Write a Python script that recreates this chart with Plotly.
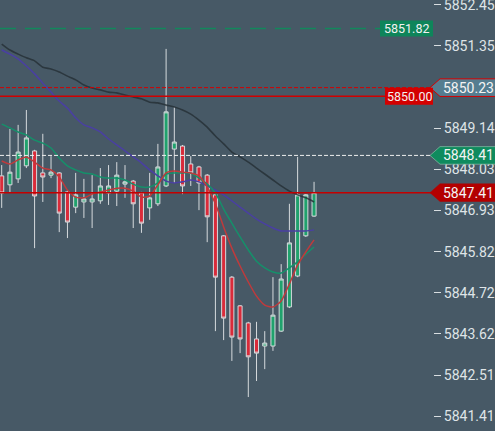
import plotly.graph_objects as go

# ---- data ----
bar_index = list(range(39))
opens = [5847.86, 5847.62, 5847.78, 5848.13, 5848.53, 5847.94, 5847.88, 5847.94, 5847.43, 5847.02,
         5847.16, 5847.16, 5847.19, 5847.40, 5847.45, 5847.64, 5847.72, 5847.40, 5847.00, 5847.11,
         5847.59, 5848.58, 5848.66, 5848.18, 5848.10, 5847.88, 5847.35, 5846.25, 5845.14, 5844.37,
         5843.91, 5843.48, 5843.29, 5843.29, 5843.69, 5844.34, 5845.17, 5846.25, 5846.78]
highs = [5848.15, 5849.12, 5849.23, 5849.63, 5848.56, 5848.99, 5848.39, 5847.96, 5847.48, 5847.94,
         5847.78, 5847.88, 5848.07, 5848.15, 5848.23, 5848.15, 5847.75, 5847.43, 5847.94, 5848.72,
         5851.27, 5849.71, 5848.69, 5848.39, 5848.13, 5847.91, 5847.37, 5846.27, 5845.17, 5844.39,
         5843.94, 5843.94, 5843.69, 5845.14, 5845.49, 5847.11, 5848.37, 5847.37, 5847.70]
lows = [5847.00, 5847.40, 5847.67, 5848.07, 5845.92, 5847.16, 5847.80, 5846.35, 5846.19, 5846.86,
        5846.73, 5846.46, 5847.11, 5847.08, 5847.05, 5847.27, 5846.46, 5846.33, 5846.68, 5847.05,
        5847.56, 5847.67, 5847.37, 5847.59, 5846.94, 5846.08, 5843.69, 5843.45, 5842.89, 5843.10,
        5841.92, 5842.35, 5842.67, 5843.16, 5843.67, 5844.31, 5845.14, 5846.22, 5846.76]
closes = [5847.40, 5847.96, 5848.50, 5848.88, 5847.32, 5847.83, 5847.96, 5846.86, 5846.62, 5847.35,
          5847.24, 5847.24, 5847.59, 5847.59, 5847.88, 5847.70, 5847.11, 5846.59, 5847.27, 5848.10,
          5849.58, 5848.77, 5847.59, 5847.94, 5847.67, 5846.76, 5845.14, 5844.04, 5843.53, 5843.48,
          5843.00, 5843.10, 5843.37, 5844.12, 5845.09, 5846.06, 5847.35, 5847.35, 5847.41]

ma_dark = [5851.40, 5851.24, 5851.13, 5851.03, 5850.95, 5850.78, 5850.73, 5850.65, 5850.54, 5850.44,
           5850.30, 5850.22, 5850.17, 5850.11, 5850.09, 5850.03, 5849.98, 5849.93, 5849.84, 5849.82,
           5849.76, 5849.71, 5849.63, 5849.52, 5849.36, 5849.17, 5848.93, 5848.72, 5848.50, 5848.37,
           5848.23, 5848.07, 5847.91, 5847.75, 5847.59, 5847.45, 5847.35, 5847.27, 5847.16]
ma_purple = [5851.24, 5851.13, 5851.00, 5850.81, 5850.60, 5850.35, 5850.11, 5849.87, 5849.68, 5849.42,
             5849.23, 5849.15, 5849.04, 5848.85, 5848.69, 5848.53, 5848.37, 5848.21, 5848.02, 5847.86,
             5847.72, 5847.67, 5847.70, 5847.75, 5847.70, 5847.59, 5847.48, 5847.35, 5847.19, 5847.02,
             5846.86, 5846.70, 5846.57, 5846.46, 5846.38, 5846.38, 5846.38, 5846.38, 5846.41]
ma_green = [5849.25, 5849.15, 5849.04, 5848.96, 5848.82, 5848.74, 5848.61, 5848.34, 5848.13, 5848.02,
            5847.94, 5847.91, 5847.83, 5847.80, 5847.80, 5847.75, 5847.64, 5847.56, 5847.56, 5847.67,
            5847.91, 5847.94, 5847.94, 5847.94, 5847.80, 5847.64, 5847.40, 5846.97, 5846.59, 5846.22,
            5845.87, 5845.57, 5845.39, 5845.28, 5845.25, 5845.39, 5845.55, 5845.76, 5845.95]
ma_red = [5848.26, 5848.18, 5848.29, 5848.37, 5848.23, 5848.07, 5848.02, 5847.83, 5847.48, 5847.29,
          5847.27, 5847.37, 5847.43, 5847.48, 5847.53, 5847.53, 5847.45, 5847.29, 5847.32, 5847.62,
          5847.94, 5847.99, 5847.96, 5847.94, 5847.86, 5847.56, 5847.11, 5846.49, 5845.92, 5845.44,
          5845.01, 5844.63, 5844.39, 5844.34, 5844.50, 5844.96, 5845.47, 5845.82, 5846.14]

tick_values = [5852.45, 5851.35, 5849.14, 5848.03, 5846.93, 5845.82, 5844.72, 5843.62, 5842.51, 5841.41]
tick_labels = ["5852.45", "5851.35", "5849.14", "5848.03", "5846.93", "5845.82", "5844.72", "5843.62",
               "5842.51", "5841.41"]

level_target = 5851.82
level_round = 5850.00
level_ask = 5850.23
level_high = 5848.41
level_last = 5847.41

# ---- styling ----
BG = "#475966"
W, H = 495, 431
R_MARGIN = 62
PLOT_W = W - R_MARGIN
Y_RANGE = [5841.008, 5852.584]
X_RANGE = [-0.207, 52.47]
px_to_price = (Y_RANGE[1] - Y_RANGE[0]) / H


def px(xp):
    return xp / PLOT_W


fig = go.Figure()

for vals, col, wid in [(ma_dark, "rgba(36,46,53,0.8)", 1.6),
                       (ma_purple, "#4a3fa3", 1.5),
                       (ma_green, "#15906a", 1.5),
                       (ma_red, "#bf3a3c", 1.5)]:
    fig.add_trace(go.Scatter(x=bar_index, y=vals, mode="lines",
                             line=dict(color=col, width=wid, shape="spline", smoothing=0.6),
                             hoverinfo="skip", showlegend=False))

fig.add_trace(go.Candlestick(
    x=bar_index, open=opens, high=highs, low=lows, close=closes,
    increasing=dict(fillcolor="#20a26d", line=dict(color="#d6dadd", width=1)),
    decreasing=dict(fillcolor="#d92b3a", line=dict(color="#d6dadd", width=1)),
    whiskerwidth=0, showlegend=False))

shapes = []
# horizontal levels
shapes.append(dict(type="line", xref="paper", yref="y", x0=0, x1=px(380), y0=level_target, y1=level_target,
                   line=dict(color="#12885c", width=1.5, dash="16px,9px"), layer="above"))
shapes.append(dict(type="line", xref="paper", yref="y", x0=0, x1=px(431), y0=level_ask, y1=level_ask,
                   line=dict(color="#d40000", width=1, dash="4px,2px"), layer="above"))
shapes.append(dict(type="line", xref="paper", yref="y", x0=0, x1=px(431), y0=level_round, y1=level_round,
                   line=dict(color="#d00000", width=1.5), layer="above"))
shapes.append(dict(type="line", xref="paper", yref="y", x0=0, x1=px(431), y0=level_high, y1=level_high,
                   line=dict(color="#eeeeee", width=1, dash="4px,2px"), layer="above"))
shapes.append(dict(type="line", xref="paper", yref="y", x0=0, x1=px(431), y0=level_last, y1=level_last,
                   line=dict(color="#c40000", width=1.5), layer="above"))

hh = 8.8 * px_to_price


def pent(level, fill, border, bw):
    x_tip, x_s, x_r = px(430), px(440), px(496)
    path = (f"M {x_tip},{level} L {x_s},{level + hh} L {x_r},{level + hh} "
            f"L {x_r},{level - hh} L {x_s},{level - hh} Z")
    return dict(type="path", xref="paper", yref="y", path=path, fillcolor=fill,
                line=dict(color=border, width=bw), layer="above")


shapes.append(pent(level_ask, "#557d90", "#d40000", 1))
shapes.append(pent(level_high, "#0f8b5e", "#9fc9b6", 0.6))
shapes.append(pent(level_last, "#b30000", "#b30000", 0.5))

# rectangle labels
shapes.append(dict(type="rect", xref="paper", yref="y", x0=px(380), x1=px(433),
                   y0=level_target - 8 * px_to_price, y1=level_target + 8 * px_to_price,
                   fillcolor="#0e855a", line=dict(width=0), layer="above"))
shapes.append(dict(type="rect", xref="paper", yref="y", x0=px(385), x1=px(433),
                   y0=level_round - 8.5 * px_to_price, y1=level_round + 8.5 * px_to_price,
                   fillcolor="#d40000", line=dict(width=0), layer="above"))

annotations = []
for lvl, xc, fs in [(level_target, 406.5, 12.5), (level_round, 409, 12.5)]:
    annotations.append(dict(xref="paper", yref="y", x=px(xc), y=lvl, text=f"{lvl:.2f}",
                            showarrow=False, xanchor="center", yanchor="middle",
                            font=dict(family="Roboto", size=fs, color="#f2f2f2")))
for lvl in [level_ask, level_high, level_last]:
    annotations.append(dict(xref="paper", yref="y", x=px(468), y=lvl, text=f"{lvl:.2f}",
                            showarrow=False, xanchor="center", yanchor="middle",
                            font=dict(family="Roboto", size=14, color="#f4f4f4")))

fig.update_layout(
    width=W, height=H, autosize=False,
    margin=dict(l=0, r=R_MARGIN, t=0, b=0),
    paper_bgcolor=BG, plot_bgcolor=BG,
    showlegend=False,
    shapes=shapes, annotations=annotations,
    xaxis=dict(range=X_RANGE, visible=False, rangeslider=dict(visible=False), fixedrange=True),
    yaxis=dict(range=Y_RANGE, side="right", showgrid=False, zeroline=False, showline=False,
               tickvals=tick_values, ticktext=tick_labels, ticks="outside", ticklen=7,
               tickcolor="#d8dde0", tickwidth=1, automargin=False, ticklabeloverflow="allow",
               tickfont=dict(family="Roboto", size=14, color="#dfe4e7")),
)

fig.write_html("out.html", config={"displayModeBar": False, "staticPlot": True},
               post_script="document.body.style.margin='0';document.body.style.background='" + BG + "';")
